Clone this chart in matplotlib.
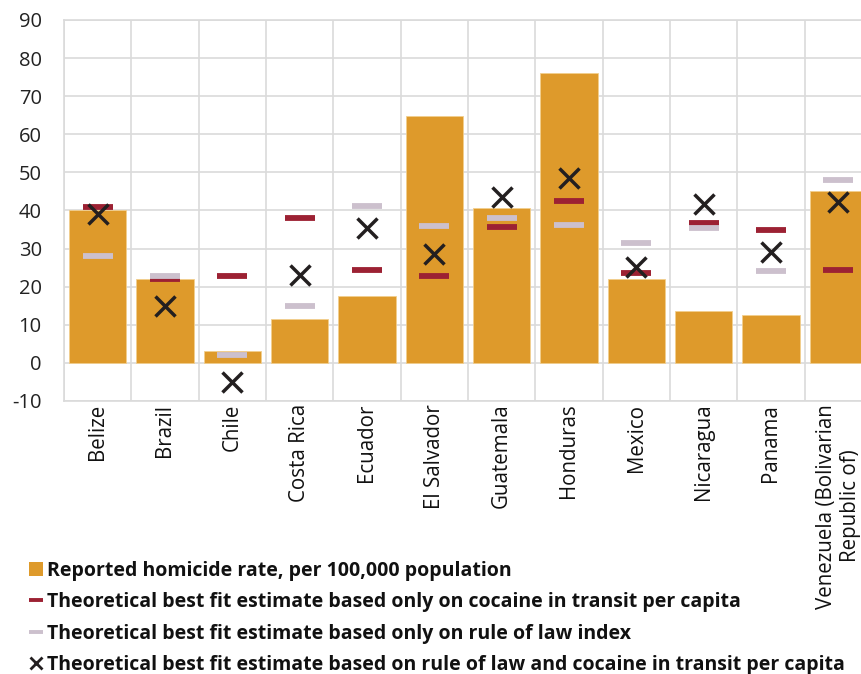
import matplotlib
matplotlib.use("Agg")
import matplotlib.pyplot as plt
from matplotlib.patches import Patch
from matplotlib.lines import Line2D
import numpy as np

plt.rcParams['font.family'] = ['Open Sans', 'DejaVu Sans']

countries = ["Belize", "Brazil", "Chile", "Costa Rica", "Ecuador", "El Salvador",
             "Guatemala", "Honduras", "Mexico", "Nicaragua", "Panama",
             "Venezuela (Bolivarian\nRepublic of)"]
homicide = [40.1, 22.0, 3.1, 11.6, 17.6, 64.7, 40.7, 76.2, 22.0, 13.6, 12.7, 45.1]
cocaine_fit = [41.0, 22.1, 22.8, 38.1, 24.5, 22.7, 35.8, 42.6, 23.7, 36.6, 34.9, 24.5]
rule_of_law_fit = [28.1, 22.7, 2.1, 15.0, 41.3, 36.0, 38.1, 36.2, 31.6, 35.4, 24.2, 48.0]
combined_fit = [39.0, 15.0, -4.9, 23.2, 35.4, 28.6, 43.5, 48.6, 25.3, 41.6, 29.0, 42.3]
yticks = list(range(-10, 91, 10))

labels = ["Reported homicide rate, per 100,000 population",
          "Theoretical best fit estimate based only on cocaine in transit per capita",
          "Theoretical best fit estimate based only on rule of law index",
          "Theoretical best fit estimate based on rule of law and cocaine in transit per capita"]

bar_c = '#DE9A2B'
red_c = '#9C2133'
gray_c = '#CCC0CD'
x_c = '#231F20'
grid_c = '#DADADA'

W, H = 861, 674
fig = plt.figure(figsize=(W / 100, H / 100), dpi=100)
ax = fig.add_axes([64 / W, 1 - 401 / H, 808 / W, (401 - 20) / H])

x = np.arange(len(countries))
ax.bar(x, homicide, width=0.85, color=bar_c, edgecolor='#F2CF8E', linewidth=0.6, zorder=2)
ax.plot(x, cocaine_fit, ls='none', marker='_', ms=21.6, mew=4.2, color=red_c, zorder=3)
ax.plot(x, rule_of_law_fit, ls='none', marker='_', ms=21.6, mew=4.2, color=gray_c, zorder=4)
ax.plot(x, combined_fit, ls='none', marker='x', ms=14.5, mew=2.5, color=x_c, zorder=5)

ax.set_xlim(-0.5, len(countries) - 0.5)
ax.set_ylim(-10, 90)
ax.set_yticks(yticks)
ax.set_yticklabels([str(v) for v in yticks], fontsize=14.5, color='#222222')
ax.set_xticks(x)
ax.set_xticklabels(countries, rotation=90, fontsize=14.8, color='#111111',
                   ha='center', va='top', multialignment='center')
ax.set_xticks(np.arange(-0.5, len(countries), 1), minor=True)
ax.tick_params(axis='both', which='both', length=0)
ax.tick_params(axis='x', pad=2)
ax.tick_params(axis='y', pad=16)
ax.grid(True, which='major', axis='y', color=grid_c, lw=1.2, zorder=0)
ax.grid(True, which='minor', axis='x', color=grid_c, lw=1.2, zorder=0)
for s in ax.spines.values():
    s.set_color(grid_c)
    s.set_linewidth(1.2)
ax.set_axisbelow(True)

handles = [Patch(facecolor=bar_c, edgecolor='none'),
           Line2D([], [], ls='none', marker='_', ms=10, mew=2.8, color=red_c),
           Line2D([], [], ls='none', marker='_', ms=10, mew=2.8, color=gray_c),
           Line2D([], [], ls='none', marker='x', ms=9, mew=2.0, color=x_c)]
fig.legend(handles, labels, loc='upper left', bbox_to_anchor=(29 / W, 1 - 561 / H),
           bbox_transform=fig.transFigure, frameon=False, borderpad=0, borderaxespad=0,
           handlelength=0.7, handleheight=0.7, handletextpad=0.25, labelspacing=0.58,
           prop={'weight': 'bold', 'size': 14.0}, labelcolor='#111111')

fig.savefig('out.png', dpi=100)
